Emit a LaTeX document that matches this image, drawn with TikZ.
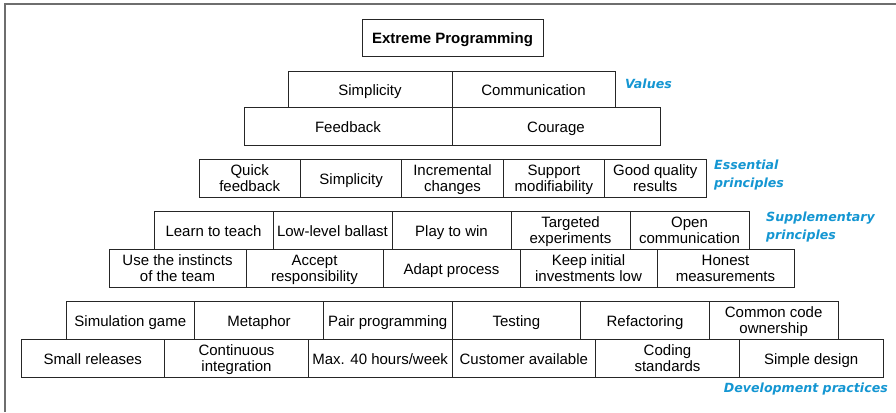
\documentclass[tikz,border=0pt]{standalone}
\usepackage{fontspec}
\setmainfont{Liberation Sans}
\newfontfamily\labelfont{DejaVu Sans}
\definecolor{lblblue}{RGB}{20,150,210}
\definecolor{framegray}{RGB}{110,110,110}
\begin{document}
\begin{tikzpicture}[x=1pt,y=-1pt,
  box/.style={draw=black!85, line width=0.8pt, rectangle, inner sep=0pt, outer sep=0pt,
    anchor=north west, align=center, font=\fontsize{15}{16}\selectfont,
    text height=13.3pt, text depth=0.7pt},
  box2/.style={box, text height=28.3pt, text depth=1.7pt},
  lbl/.style={text=lblblue, inner sep=0pt, align=left,
    font=\labelfont\bfseries\itshape\fontsize{12.6}{18}\selectfont}]
\useasboundingbox (0,0) rectangle (896,412);
% frame
\draw[framegray, line width=1.6pt] (5,412) -- (5,4) -- (896,4);
% title
\node[box, minimum width=181pt, minimum height=37pt, font=\bfseries\fontsize{15}{16}\selectfont] (xp) at (362,19) {Extreme Programming};
% values
\node[box, minimum width=164pt, minimum height=36pt] (v1) at (288,71) {Simplicity};
\node[box, minimum width=163pt, minimum height=36pt] (v2) at (452,71) {Communication};
\node[box, minimum width=208pt, minimum height=38pt] (v3) at (244,107) {Feedback};
\node[box, minimum width=208pt, minimum height=38pt] (v4) at (452,107) {Courage};
\node[lbl, anchor=west] (lv) at (625,84) {Values};
% essential principles
\node[box2, minimum width=101.4pt, minimum height=38pt] (e1) at (199,159) {Quick\\feedback};
\node[box, minimum width=101.4pt, minimum height=38pt] (e2) at (300.4,159) {Simplicity};
\node[box2, minimum width=101.4pt, minimum height=38pt] (e3) at (401.8,159) {Incremental\\changes};
\node[box2, minimum width=101.4pt, minimum height=38pt] (e4) at (503.2,159) {Support\\modifiability};
\node[box2, minimum width=101.4pt, minimum height=38pt] (e5) at (604.6,159) {Good quality\\results};
\node[lbl, anchor=west] (le) at (714,175) {Essential\\principles};
% supplementary principles
\node[box, minimum width=119pt, minimum height=38pt] (s1) at (154,211) {Learn to teach};
\node[box, minimum width=119pt, minimum height=38pt] (s2) at (273,211) {Low-level ballast};
\node[box, minimum width=119pt, minimum height=38pt] (s3) at (392,211) {Play to win};
\node[box2, minimum width=119pt, minimum height=38pt] (s4) at (511,211) {Targeted\\experiments};
\node[box2, minimum width=119pt, minimum height=38pt] (s5) at (630,211) {Open\\communication};
\node[box2, minimum width=137pt, minimum height=38pt] (s6) at (109,249) {Use the instincts\\of the team};
\node[box2, minimum width=137pt, minimum height=38pt] (s7) at (246,249) {Accept\\responsibility};
\node[box, minimum width=137pt, minimum height=38pt] (s8) at (383,249) {Adapt process};
\node[box2, minimum width=137pt, minimum height=38pt] (s9) at (520,249) {Keep initial\\investments low};
\node[box2, minimum width=137pt, minimum height=38pt] (s10) at (657,249) {Honest\\measurements};
\node[lbl, anchor=west] (ls) at (766,227) {Supplementary\\principles};
% development practices
\node[box, minimum width=128.67pt, minimum height=38pt] (d1) at (66,301) {Simulation game};
\node[box, minimum width=128.67pt, minimum height=38pt] (d2) at (194.67,301) {Metaphor};
\node[box, minimum width=128.67pt, minimum height=38pt] (d3) at (323.33,301) {Pair programming};
\node[box, minimum width=128.67pt, minimum height=38pt] (d4) at (452,301) {Testing};
\node[box, minimum width=128.67pt, minimum height=38pt] (d5) at (580.67,301) {Refactoring};
\node[box2, minimum width=128.67pt, minimum height=38pt] (d6) at (709.33,301) {Common code\\ownership};
\node[box, minimum width=143.67pt, minimum height=38pt] (d7) at (21,339) {Small releases};
\node[box2, minimum width=143.67pt, minimum height=38pt] (d8) at (164.67,339) {Continuous\\integration};
\node[box, minimum width=143.67pt, minimum height=38pt] (d9) at (308.33,339) {Max. 40 hours/week};
\node[box, minimum width=143.67pt, minimum height=38pt] (d10) at (452,339) {Customer available};
\node[box2, minimum width=143.67pt, minimum height=38pt] (d11) at (595.67,339) {Coding\\standards};
\node[box, minimum width=143.67pt, minimum height=38pt] (d12) at (739.33,339) {Simple design};
\node[lbl, anchor=east] (ld) at (888,389) {Development practices};
\end{tikzpicture}
\end{document}
